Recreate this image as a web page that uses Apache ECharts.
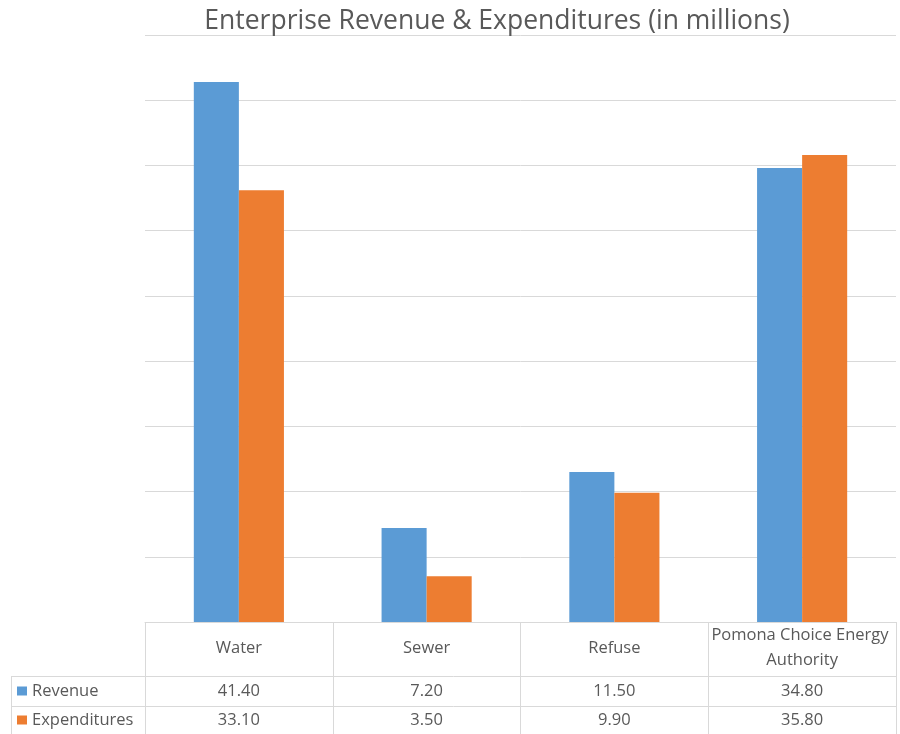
<!DOCTYPE html>
<html>
<head>
<meta charset="utf-8">
<script src="https://cdn.jsdelivr.net/npm/echarts@6/dist/echarts.min.js"></script>
<style>
  html, body { margin: 0; padding: 0; background: #fff; }
  #chart { width: 900px; height: 734px; }
</style>
</head>
<body>
<div id="chart"></div>
<script>
// Enterprise funds, values in millions of dollars
const categories = ['Water', 'Sewer', 'Refuse', 'Pomona Choice Energy Authority'];
const revenue = [41.40, 7.20, 11.50, 34.80];
const expenditures = [33.10, 3.50, 9.90, 35.80];
const seriesNames = ['Revenue', 'Expenditures'];
const titleText = 'Enterprise Revenue & Expenditures (in millions)';

const BLUE = '#5B9BD5';
const ORANGE = '#ED7D31';
const TEXT = '#595959';
const LINE = '#D9D9D9';
const FONT = '"Open Sans", "Noto Sans", sans-serif';
const CELL_FONT = 16.5;

const GRID = { left: 145, right: 4, top: 35, bottom: 112 };
const W = 900, H = 734;
const tableLeft = 11;
const rowTop = 676, rowH = 29;

const chart = echarts.init(document.getElementById('chart'), null, { renderer: 'canvas' });

const option = {
  animation: false,
  backgroundColor: '#ffffff',
  title: {
    text: titleText,
    left: 492,
    textAlign: 'center',
    top: 3,
    textStyle: { fontFamily: FONT, fontSize: 26.5, fontWeight: 'normal', color: TEXT }
  },
  grid: GRID,
  xAxis: {
    type: 'category',
    data: categories,
    axisLine: { show: true, lineStyle: { color: LINE, width: 1 } },
    axisTick: { show: true, inside: false, length: GRID.bottom, lineStyle: { color: LINE } },
    axisLabel: {
      interval: 0,
      margin: 26,
      verticalAlign: 'middle',
      width: 186,
      overflow: 'break',
      lineHeight: 25,
      fontFamily: FONT,
      fontSize: CELL_FONT,
      color: TEXT
    }
  },
  yAxis: {
    type: 'value',
    min: 0,
    max: 45,
    interval: 5,
    axisLine: { show: false },
    axisTick: { show: false },
    axisLabel: { show: false },
    splitLine: { lineStyle: { color: LINE, width: 1 } }
  },
  series: [
    { name: seriesNames[0], type: 'bar', data: revenue, barWidth: '24%', barGap: '0%', itemStyle: { color: BLUE } },
    { name: seriesNames[1], type: 'bar', data: expenditures, barWidth: '24%', barGap: '0%', itemStyle: { color: ORANGE } }
  ]
};
chart.setOption(option);

// Data table under the axis: row lines, legend keys, and the values per category
function buildTable() {
  const right = W - GRID.right;
  const els = [];
  const lineStyle = { stroke: LINE, lineWidth: 1 };
  [rowTop, rowTop + rowH + 1].forEach(function (y) {
    els.push({ type: 'line', shape: { x1: tableLeft, y1: y + 0.5, x2: right, y2: y + 0.5 }, style: lineStyle, silent: true });
  });
  els.push({ type: 'line', shape: { x1: tableLeft + 0.5, y1: rowTop, x2: tableLeft + 0.5, y2: H }, style: lineStyle, silent: true });

  const rows = [revenue, expenditures];
  const colors = [BLUE, ORANGE];
  rows.forEach(function (vals, r) {
    const cy = rowTop + rowH * r + rowH / 2 + 1;
    els.push({ type: 'rect', shape: { x: 17, y: cy - 5, width: 10, height: 9 }, style: { fill: colors[r] }, silent: true });
    els.push({
      type: 'text', x: 32, y: cy,
      style: { text: seriesNames[r], fontFamily: FONT, fontSize: CELL_FONT, fill: TEXT, align: 'left', verticalAlign: 'middle' },
      silent: true
    });
    vals.forEach(function (v, i) {
      const cx = chart.convertToPixel({ xAxisIndex: 0 }, i);
      els.push({
        type: 'text', x: cx, y: cy,
        style: { text: v.toFixed(2), fontFamily: FONT, fontSize: CELL_FONT, fill: TEXT, align: 'center', verticalAlign: 'middle' },
        silent: true
      });
    });
  });
  chart.setOption({ graphic: { elements: els } });
}
buildTable();
</script>
</body>
</html>
